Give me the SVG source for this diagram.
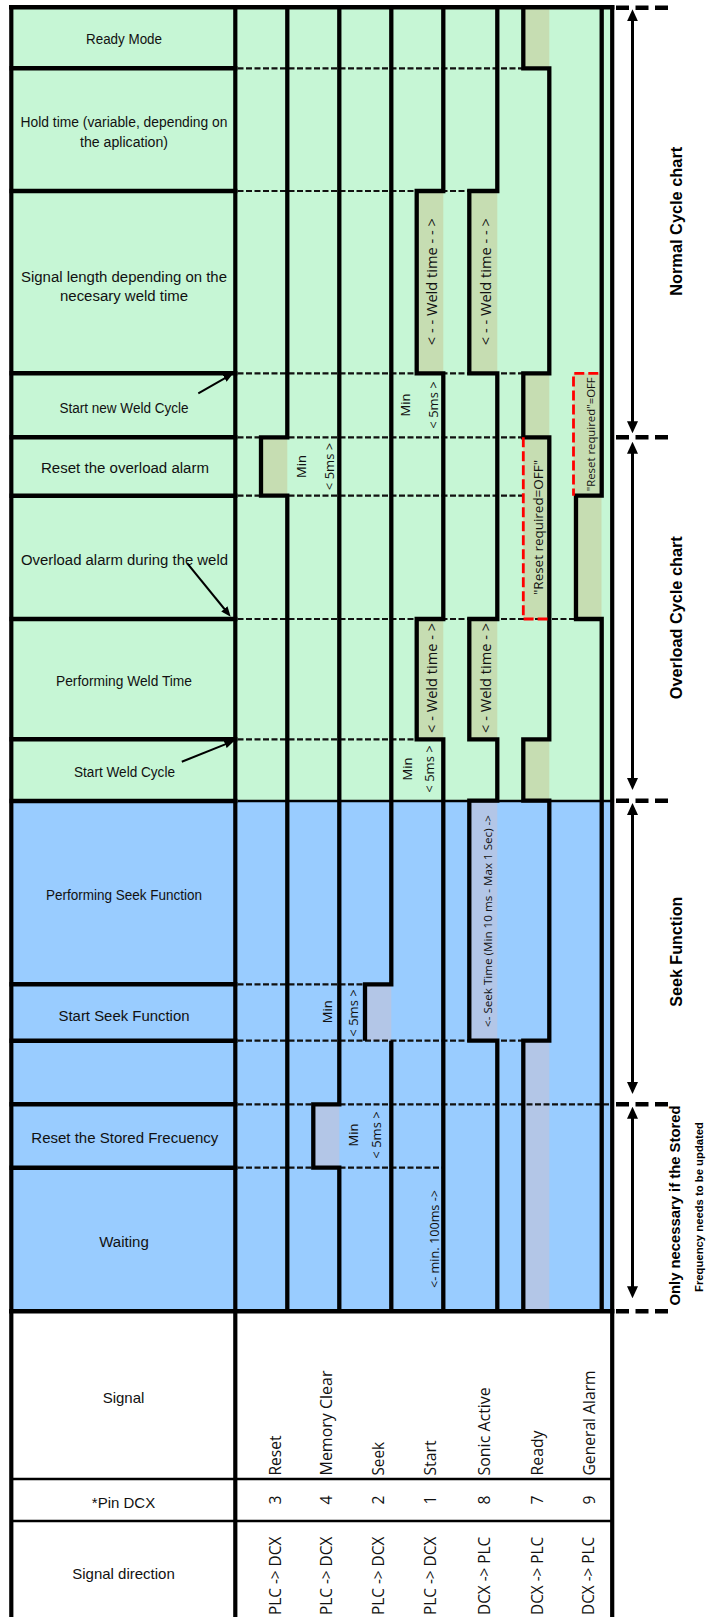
<svg xmlns="http://www.w3.org/2000/svg" width="708" height="1617" viewBox="0 0 708 1617">
<style>
.lbl{font-family:"Liberation Sans",Arial,sans-serif;fill:#111;text-anchor:middle;dominant-baseline:central}
.rot{font-family:"Open Sans","DejaVu Sans",sans-serif;fill:#111;dominant-baseline:central}
.mid{text-anchor:middle}
.side{font-family:"Liberation Sans",Arial,sans-serif;font-weight:bold;fill:#000;text-anchor:middle;dominant-baseline:central}
.sig{fill:none;stroke:#000;stroke-width:4.3;stroke-linejoin:miter}
.row{stroke:#000;stroke-width:4.5}
.thin{stroke:#000;stroke-width:2.3}
.dash{stroke:#111;stroke-width:2.2;stroke-dasharray:6 2.5}
.red{fill:none;stroke:#ff0000;stroke-width:2.8;stroke-dasharray:10 4}
.olive{fill:#c6ddb2}
.lav{fill:#b3c6e7}
.brk{stroke:#000;stroke-width:4.6;stroke-dasharray:13 6.5}
.arr{stroke:#000;stroke-width:3;fill:none}
.arr2{stroke:#000;stroke-width:2;fill:none}
.min{font-size:13px}
</style>
<defs>
<marker id="ah" viewBox="0 0 12 11" refX="2" refY="5.5" markerWidth="12" markerHeight="11" markerUnits="userSpaceOnUse" orient="auto-start-reverse"><path d="M0,0 L12,5.5 L0,11 z" fill="#000"/></marker>
<marker id="ah2" viewBox="0 0 10 8" refX="4" refY="4" markerWidth="10" markerHeight="8" markerUnits="userSpaceOnUse" orient="auto"><path d="M0,0 L10,4 L0,8 z" fill="#000"/></marker>
</defs>

<g id="background">
<rect x="11" y="7.5" width="601" height="793.2" fill="#c6f6d5"/>
<rect x="11" y="800.7" width="601" height="510.5" fill="#99ccff"/>
<rect x="11" y="1311.2" width="601" height="306" fill="#ffffff"/>
</g>

<g id="signal-fills">
<rect class="olive" x="261" y="437.3" width="26.3" height="58.4"/>
<rect class="lav" x="313.3" y="1104.3" width="26" height="63.4"/>
<rect class="lav" x="365" y="984.3" width="26.3" height="56.4"/>
<rect class="olive" x="416.7" y="191" width="26.6" height="182.3"/>
<rect class="olive" x="416.7" y="619" width="26.6" height="120.3"/>
<rect class="olive" x="469.3" y="191" width="28" height="182.3"/>
<rect class="olive" x="469.3" y="619" width="28" height="120.3"/>
<rect class="lav" x="469.3" y="800.7" width="28" height="240"/>
<rect class="olive" x="523.3" y="7.5" width="26" height="60.8"/>
<rect class="olive" x="523.3" y="373.3" width="26" height="245.7"/>
<rect class="olive" x="523.3" y="739.3" width="26" height="61.4"/>
<rect class="lav" x="523.3" y="1040.7" width="26" height="270.5"/>
<rect class="olive" x="573.5" y="373.3" width="28" height="245.7"/>
</g>

<g id="time-markers">
<line class="dash" x1="237.5" y1="68.3" x2="523.3" y2="68.3"/>
<line class="dash" x1="237.5" y1="191" x2="469.3" y2="191"/>
<line class="dash" x1="237.5" y1="373.3" x2="523.3" y2="373.3"/>
<line class="dash" x1="237.5" y1="437.3" x2="523.3" y2="437.3"/>
<line class="dash" x1="237.5" y1="495.7" x2="523.3" y2="495.7"/>
<line class="dash" x1="237.5" y1="619" x2="576" y2="619"/>
<line class="dash" x1="237.5" y1="739.3" x2="416.7" y2="739.3"/>
<line class="dash" x1="237.5" y1="984.3" x2="365" y2="984.3"/>
<line class="dash" x1="237.5" y1="1040.7" x2="523.3" y2="1040.7"/>
<line class="dash" x1="237.5" y1="1104.3" x2="612" y2="1104.3"/>
<line class="dash" x1="237.5" y1="1167.7" x2="443.3" y2="1167.7"/>
<line stroke="#000" stroke-width="2.5" x1="237.5" y1="801" x2="612" y2="801"/>
</g>

<g id="signal-reset"><path class="sig" d="M287.3,7.5 V437.3 H261 V495.7 H287.3 V1311"/></g>
<g id="signal-memory-clear"><path class="sig" d="M339.3,7.5 V1104.3 H313.3 V1167.7 H339.3 V1311"/></g>
<g id="signal-seek"><path class="sig" d="M391.3,7.5 V984.3 H365 V1040.7 M391.3,1040.7 V1311"/></g>
<g id="signal-start"><path class="sig" d="M443.3,7.5 V191 H416.7 V373.3 H443.3 V619 H416.7 V739.3 H443.3 V1311"/></g>
<g id="signal-sonic-active"><path class="sig" d="M497.3,7.5 V191 H469.3 V373.3 H497.3 V619 H469.3 V739.3 H497.3 V800.7 H469.3 V1040.7 H497.3 V1311"/></g>
<g id="signal-ready"><path class="sig" d="M523.3,7.5 V68.3 H549.3 V373.3 H523.3 V437.3 H549.3 V739.3 H523.3 V800.7 H549.3 V1040.7 H523.3 V1311"/></g>
<g id="signal-general-alarm"><path class="sig" d="M601.7,7.5 V495.7 H576 V619 H601.7 V1311"/></g>

<g id="red-boxes">
<path class="red" d="M523.3,437.3 V619 H549.3"/>
<path class="red" d="M598.3,373.3 H573.5 V495.7"/>
</g>

<g id="frame">
<line class="row" x1="9" y1="7.3" x2="614.4" y2="7.3"/>
<line stroke="#000" stroke-width="4.2" x1="11.3" y1="5.2" x2="11.3" y2="1617"/>
<line stroke="#000" stroke-width="4.2" x1="612.2" y1="5.2" x2="612.2" y2="1617"/>
<line stroke="#000" stroke-width="4.2" x1="235.3" y1="5.2" x2="235.3" y2="1617"/>
<line class="row" x1="9" y1="1311.2" x2="614.4" y2="1311.2"/>
<line class="thin" x1="11" y1="1479" x2="612" y2="1479"/>
<line class="thin" x1="11" y1="1521" x2="612" y2="1521"/>
</g>

<g id="row-ready-mode"><line class="row" x1="9.5" y1="68.3" x2="237.4" y2="68.3"/><text class="lbl" x="124" y="39" font-size="14" textLength="76" lengthAdjust="spacingAndGlyphs">Ready Mode</text></g>
<g id="row-hold-time"><line class="row" x1="9.5" y1="191" x2="237.4" y2="191"/><text class="lbl" x="124" y="121.7" font-size="14" textLength="207" lengthAdjust="spacingAndGlyphs">Hold time (variable, depending on</text><text class="lbl" x="124" y="141.7" font-size="14" textLength="88" lengthAdjust="spacingAndGlyphs">the aplication)</text></g>
<g id="row-signal-length"><line class="row" x1="9.5" y1="373.3" x2="237.4" y2="373.3"/><text class="lbl" x="124" y="276" font-size="15.5" textLength="206" lengthAdjust="spacingAndGlyphs">Signal length depending on the</text><text class="lbl" x="124" y="295" font-size="15.5" textLength="128" lengthAdjust="spacingAndGlyphs">necesary weld time</text></g>
<g id="row-start-new-weld-cycle"><line class="row" x1="9.5" y1="437.3" x2="237.4" y2="437.3"/><text class="lbl" x="124" y="407.5" font-size="14" textLength="129" lengthAdjust="spacingAndGlyphs">Start new Weld Cycle</text></g>
<g id="row-reset-overload"><line class="row" x1="9.5" y1="495.7" x2="237.4" y2="495.7"/><text class="lbl" x="125" y="467" font-size="15.5" textLength="168" lengthAdjust="spacingAndGlyphs">Reset the overload alarm</text></g>
<g id="row-overload-alarm"><line class="row" x1="9.5" y1="619" x2="237.4" y2="619"/><text class="lbl" x="124.5" y="559.7" font-size="15.5" textLength="207" lengthAdjust="spacingAndGlyphs">Overload alarm during the weld</text></g>
<g id="row-performing-weld"><line class="row" x1="9.5" y1="739.3" x2="237.4" y2="739.3"/><text class="lbl" x="124" y="680.8" font-size="14" textLength="136" lengthAdjust="spacingAndGlyphs">Performing Weld Time</text></g>
<g id="row-start-weld-cycle"><line class="row" x1="9.5" y1="801" x2="237.4" y2="801"/><text class="lbl" x="124.5" y="771.5" font-size="14" textLength="101" lengthAdjust="spacingAndGlyphs">Start Weld Cycle</text></g>
<g id="row-performing-seek"><line class="row" x1="9.5" y1="984.3" x2="237.4" y2="984.3"/><text class="lbl" x="124" y="894.8" font-size="14" textLength="156" lengthAdjust="spacingAndGlyphs">Performing Seek Function</text></g>
<g id="row-start-seek"><line class="row" x1="9.5" y1="1040.7" x2="237.4" y2="1040.7"/><text class="lbl" x="124" y="1015" font-size="15.5" textLength="131" lengthAdjust="spacingAndGlyphs">Start Seek Function</text></g>
<g id="row-empty"><line class="row" x1="9.5" y1="1104.3" x2="237.4" y2="1104.3"/></g>
<g id="row-reset-stored-frequency"><line class="row" x1="9.5" y1="1167.7" x2="237.4" y2="1167.7"/><text class="lbl" x="124.8" y="1137.8" font-size="15.5" textLength="187" lengthAdjust="spacingAndGlyphs">Reset the Stored Frecuency</text></g>
<g id="row-waiting"><text class="lbl" x="124" y="1241" font-size="15.5" textLength="49.5" lengthAdjust="spacingAndGlyphs">Waiting</text></g>

<g id="chart-annotations">
<text class="rot mid" transform="translate(431.5,281.7) rotate(-90)" font-size="14.5" textLength="127" lengthAdjust="spacingAndGlyphs">&lt; - - Weld time - - &gt;</text>
<text class="rot mid" transform="translate(485,281.7) rotate(-90)" font-size="14.5" textLength="127" lengthAdjust="spacingAndGlyphs">&lt; - - Weld time - - &gt;</text>
<text class="rot mid" transform="translate(431.5,678) rotate(-90)" font-size="14.5" textLength="110" lengthAdjust="spacingAndGlyphs">&lt; - Weld time - &gt;</text>
<text class="rot mid" transform="translate(485,678) rotate(-90)" font-size="14.5" textLength="110" lengthAdjust="spacingAndGlyphs">&lt; - Weld time - &gt;</text>
<text class="rot mid" transform="translate(487,921) rotate(-90)" font-size="11.5" textLength="212" lengthAdjust="spacingAndGlyphs">&lt;- Seek Time (Min 10 ms - Max 1 Sec) -&gt;</text>
<text class="rot mid" transform="translate(434,1239) rotate(-90)" font-size="13" textLength="98" lengthAdjust="spacingAndGlyphs">&lt;- min. 100ms -&gt;</text>
<text class="rot mid min" transform="translate(405.3,405) rotate(-90)">Min</text>
<text class="rot mid min" transform="translate(432.5,405) rotate(-90)">&lt; 5ms &gt;</text>
<text class="rot mid min" transform="translate(301.3,466.5) rotate(-90)">Min</text>
<text class="rot mid min" transform="translate(328.5,466.5) rotate(-90)">&lt; 5ms &gt;</text>
<text class="rot mid min" transform="translate(406.5,769) rotate(-90)">Min</text>
<text class="rot mid min" transform="translate(429,769) rotate(-90)">&lt; 5ms &gt;</text>
<text class="rot mid min" transform="translate(326.7,1011.7) rotate(-90)">Min</text>
<text class="rot mid min" transform="translate(353.3,1013) rotate(-90)">&lt; 5ms &gt;</text>
<text class="rot mid min" transform="translate(353.3,1135) rotate(-90)">Min</text>
<text class="rot mid min" transform="translate(375.8,1135) rotate(-90)">&lt; 5ms &gt;</text>
<text class="rot mid" transform="translate(538,527.5) rotate(-90)" font-size="13" textLength="135" lengthAdjust="spacingAndGlyphs">"Reset required=OFF"</text>
<text class="rot mid" transform="translate(590.5,434.3) rotate(-90)" font-size="11.5" textLength="114" lengthAdjust="spacingAndGlyphs">"Reset required"=OFF</text>
</g>

<g id="table">
<text class="lbl" x="123.5" y="1397.5" font-size="15">Signal</text>
<text class="lbl" x="123.5" y="1502" font-size="15">*Pin DCX</text>
<text class="lbl" x="123.5" y="1573" font-size="15">Signal direction</text>
<text class="rot" transform="translate(274.5,1475.5) rotate(-90)" font-size="15.7" textLength="40" lengthAdjust="spacingAndGlyphs">Reset</text>
<text class="rot" transform="translate(326,1475.5) rotate(-90)" font-size="15.7" textLength="105" lengthAdjust="spacingAndGlyphs">Memory Clear</text>
<text class="rot" transform="translate(378,1475.5) rotate(-90)" font-size="15.7" textLength="33.5" lengthAdjust="spacingAndGlyphs">Seek</text>
<text class="rot" transform="translate(430,1475.5) rotate(-90)" font-size="15.7" textLength="35" lengthAdjust="spacingAndGlyphs">Start</text>
<text class="rot" transform="translate(484,1475.5) rotate(-90)" font-size="15.7" textLength="88.3" lengthAdjust="spacingAndGlyphs">Sonic Active</text>
<text class="rot" transform="translate(536.5,1475.5) rotate(-90)" font-size="15.7" textLength="45" lengthAdjust="spacingAndGlyphs">Ready</text>
<text class="rot" transform="translate(588.5,1475.5) rotate(-90)" font-size="15.7" textLength="105" lengthAdjust="spacingAndGlyphs">General Alarm</text>
<text class="rot mid" transform="translate(274.5,1500) rotate(-90)" font-size="15.7">3</text>
<text class="rot mid" transform="translate(326,1500) rotate(-90)" font-size="15.7">4</text>
<text class="rot mid" transform="translate(378,1500) rotate(-90)" font-size="15.7">2</text>
<text class="rot mid" transform="translate(430,1500) rotate(-90)" font-size="15.7">1</text>
<text class="rot mid" transform="translate(484,1500) rotate(-90)" font-size="15.7">8</text>
<text class="rot mid" transform="translate(536.5,1500) rotate(-90)" font-size="15.7">7</text>
<text class="rot mid" transform="translate(588.5,1500) rotate(-90)" font-size="15.7">9</text>
<text class="rot" transform="translate(275,1615) rotate(-90)" font-size="15.7" textLength="78.3" lengthAdjust="spacingAndGlyphs">PLC -&gt; DCX</text>
<text class="rot" transform="translate(326,1615) rotate(-90)" font-size="15.7" textLength="78.3" lengthAdjust="spacingAndGlyphs">PLC -&gt; DCX</text>
<text class="rot" transform="translate(377.5,1615) rotate(-90)" font-size="15.7" textLength="78.3" lengthAdjust="spacingAndGlyphs">PLC -&gt; DCX</text>
<text class="rot" transform="translate(430,1615) rotate(-90)" font-size="15.7" textLength="78.3" lengthAdjust="spacingAndGlyphs">PLC -&gt; DCX</text>
<text class="rot" transform="translate(484,1615) rotate(-90)" font-size="15.7" textLength="78.3" lengthAdjust="spacingAndGlyphs">DCX -&gt; PLC</text>
<text class="rot" transform="translate(536.7,1615) rotate(-90)" font-size="15.7" textLength="78.3" lengthAdjust="spacingAndGlyphs">DCX -&gt; PLC</text>
<text class="rot" transform="translate(588,1615) rotate(-90)" font-size="15.7" textLength="78.3" lengthAdjust="spacingAndGlyphs">DCX -&gt; PLC</text>
</g>

<g id="phase-labels">
<text class="side" transform="translate(676,221.3) rotate(-90)" font-size="16.3" textLength="149" lengthAdjust="spacingAndGlyphs">Normal Cycle chart</text>
<text class="side" transform="translate(676,617.7) rotate(-90)" font-size="16.3" textLength="163" lengthAdjust="spacingAndGlyphs">Overload Cycle chart</text>
<text class="side" transform="translate(676,951.7) rotate(-90)" font-size="16.3" textLength="110" lengthAdjust="spacingAndGlyphs">Seek Function</text>
<text class="side" transform="translate(675,1205.5) rotate(-90)" font-size="14.6" textLength="200" lengthAdjust="spacingAndGlyphs">Only necessary if the Stored</text>
<text class="side" transform="translate(698.5,1207) rotate(-90)" font-size="10.8" textLength="170" lengthAdjust="spacingAndGlyphs">Frequency needs to be updated</text>
</g>

<g id="connectors">
<line class="brk" x1="616" y1="7.7" x2="669" y2="7.7"/>
<line class="brk" x1="616" y1="437.3" x2="669" y2="437.3"/>
<line class="brk" x1="616" y1="800.7" x2="669" y2="800.7"/>
<line class="brk" x1="616" y1="1104.3" x2="669" y2="1104.3"/>
<line class="brk" x1="616" y1="1311.2" x2="669" y2="1311.2"/>
<path class="arr" d="M632.5,19.3 V423.3" marker-start="url(#ah)" marker-end="url(#ah)"/>
<path class="arr" d="M632.5,451.7 V780" marker-start="url(#ah)" marker-end="url(#ah)"/>
<path class="arr" d="M632.5,813 V1084" marker-start="url(#ah)" marker-end="url(#ah)"/>
<path class="arr" d="M632.5,1116.7 V1288.3" marker-start="url(#ah)" marker-end="url(#ah)"/>
<path class="arr2" d="M198.3,393.3 L228.1,376.3" marker-end="url(#ah2)"/>
<path class="arr2" d="M187.3,563.3 L226.9,612" marker-end="url(#ah2)"/>
<path class="arr2" d="M181.8,761.7 L228.9,742.9" marker-end="url(#ah2)"/>
</g>
</svg>
